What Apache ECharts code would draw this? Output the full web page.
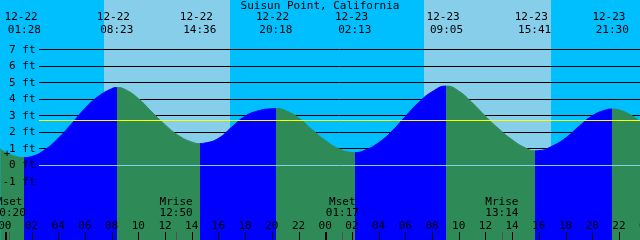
<!DOCTYPE html>
<html>
<head>
<meta charset="utf-8">
<script src="https://cdn.jsdelivr.net/npm/echarts@6/dist/echarts.min.js"></script>
<style>
html,body{margin:0;padding:0;background:#00BFFF;}
#c{width:640px;height:240px;}
</style>
</head>
<body>
<div id="c"></div>
<script>
// ---------- data (hours counted from 12-22 00:00) ----------
const chartTitle = 'Suisun Point, California';

const tideTimes = [-0.34, 0, 1, 1.467, 2, 3, 4, 5, 6, 7, 8, 8.383, 9, 10, 11, 12, 13, 14, 14.6,
  15, 16, 17, 18, 19, 20, 20.3, 21, 22, 23, 24, 25, 26, 26.217, 27, 28, 29, 30, 31, 32, 33.083,
  34, 35, 36, 37, 38, 39, 39.683, 40, 41, 42, 43, 44, 45, 45.5, 46, 47, 47.6];
const tideHeights = [1.00, 0.82, 0.52, 0.48, 0.54, 0.95, 1.64, 2.52, 3.45, 4.17, 4.64, 4.71, 4.60, 4.05, 3.25, 2.47, 1.82, 1.42, 1.33,
  1.36, 1.64, 2.32, 2.98, 3.31, 3.43, 3.44, 3.33, 2.88, 2.18, 1.52, 1.02, 0.79, 0.78, 0.93, 1.38, 2.08, 2.96, 3.80, 4.45, 4.80,
  4.50, 3.80, 2.98, 2.22, 1.56, 1.06, 0.89, 0.90, 1.17, 1.66, 2.36, 3.00, 3.35, 3.41, 3.36, 3.00, 2.65];

const extremeTimes  = [1.467, 8.383, 14.6, 20.3, 26.217, 33.083, 39.683, 45.5];
const extremeKinds  = ['low', 'high', 'low', 'high', 'low', 'high', 'low', 'high'];
const extremeDates  = ['12-22', '12-22', '12-22', '12-22', '12-23', '12-23', '12-23', '12-23'];
const extremeClock  = ['01:28', '08:23', '14:36', '20:18', '02:13', '09:05', '15:41', '21:30'];

const sunriseTimes = [7.40, 31.42];
const sunsetTimes  = [16.89, 40.93];

const moonTimes  = [0.333, 12.833, 25.283, 37.233];
const moonEvents = ['Mset', 'Mrise', 'Mset', 'Mrise'];
const moonClock  = ['00:20', '12:50', '01:17', '13:14'];

const hourTicks  = [0, 2, 4, 6, 8, 10, 12, 14, 16, 18, 20, 22, 24, 26, 28, 30, 32, 34, 36, 38, 40, 42, 44, 46, 48];
const hourLabels = ['00','02','04','06','08','10','12','14','16','18','20','22','00','02','04','06','08','10','12','14','16','18','20','22','00'];

const levelValues = [-1, 0, 1, 2, 3, 4, 5, 6, 7];
const levelLabels = ['-1 ft', '0 ft', '1 ft', '2 ft', '3 ft', '4 ft', '5 ft', '6 ft', '7 ft'];
const meanLevel = [2.72];
const markLevel = [0.69];

// ---------- styling ----------
const X_MIN = -0.36, X_MAX = 47.58, Y_MIN = -4.5, Y_MAX = 10;
const FONT = '11px "DejaVu Sans Mono", "Liberation Mono", monospace';
const LINE_X0 = 39;
const NIGHT = '#00BFFF', DAY = '#87CEEB', RISE = '#0000FF', FALL = '#2E8B57';

// visual pieces: rising after a low, falling after a high
const pieces = [{ lt: extremeTimes[0], color: extremeKinds[0] === 'low' ? FALL : RISE }];
extremeTimes.forEach((t, i) => {
  const p = { gte: t, color: extremeKinds[i] === 'low' ? RISE : FALL };
  if (i < extremeTimes.length - 1) p.lt = extremeTimes[i + 1];
  pieces.push(p);
});

function txt(x, y, text, align, fill) {
  return { type: 'text', x: x, y: y, style: { text: text, font: FONT, fill: fill || '#000', align: align || 'center', verticalAlign: 'middle' } };
}

const chart = echarts.init(document.getElementById('c'));
chart.setOption({
  backgroundColor: NIGHT,
  animation: false,
  grid: { left: 0, right: 0, top: 0, bottom: 0 },
  xAxis: { type: 'value', min: X_MIN, max: X_MAX, show: false },
  yAxis: { type: 'value', min: Y_MIN, max: Y_MAX, show: false },
  visualMap: { type: 'piecewise', show: false, dimension: 0, seriesIndex: 2, pieces: pieces },
  series: [
    { // daylight bands
      type: 'custom', z: 1, silent: true,
      data: sunriseTimes.map((s, i) => [s, sunsetTimes[i], 0]),
      encode: { x: [0, 1], y: 2 },
      renderItem: (params, api) => {
        const a = Math.round(api.coord([api.value(0), 0])[0]);
        const b = Math.round(api.coord([api.value(1), 0])[0]);
        const cs = params.coordSys;
        return { type: 'rect', shape: { x: a, y: cs.y, width: b - a, height: cs.height }, style: { fill: DAY } };
      }
    },
    { // level lines behind tide
      type: 'custom', z: 2, silent: true,
      data: levelValues.filter(v => v !== 0).map(v => [X_MIN, v]),
      encode: { x: 0, y: 1 },
      renderItem: (params, api) => {
        const y = Math.floor(api.coord([api.value(0), api.value(1)])[1]) + 0.5;
        const cs = params.coordSys;
        return { type: 'line', shape: { x1: LINE_X0, y1: y, x2: cs.x + cs.width, y2: y }, style: { stroke: '#000', lineWidth: 1 } };
      }
    },
    { // tide
      type: 'line', z: 3, silent: true,
      data: tideTimes.map((t, i) => [t, tideHeights[i]]),
      smooth: 0.5, showSymbol: false,
      lineStyle: { width: 1 },
      areaStyle: { opacity: 1, origin: 'start' }
    },
    { // datum and mean lines
      type: 'custom', z: 4, silent: true,
      data: [[X_MIN, 0, 0], [X_MIN, meanLevel[0], 1]],
      encode: { x: 0, y: 1 },
      renderItem: (params, api) => {
        const y = Math.floor(api.coord([api.value(0), api.value(1)])[1]) + 0.5;
        const cs = params.coordSys;
        return { type: 'line', shape: { x1: LINE_X0, y1: y, x2: cs.x + cs.width, y2: y },
          style: { stroke: api.value(2) ? '#FFFF00' : DAY, lineWidth: 1 } };
      }
    },
    { // level labels
      type: 'custom', z: 5, silent: true,
      data: levelValues.map((v, i) => [X_MIN, v, i]),
      encode: { x: 0, y: 1 },
      renderItem: (params, api) => {
        const y = api.coord([api.value(0), api.value(1)])[1];
        return txt(35.5, y, levelLabels[api.value(2)], 'right');
      }
    },
    { // extreme labels
      type: 'custom', z: 5, silent: true,
      data: extremeTimes.map((t, i) => [t, Y_MAX, i]),
      encode: { x: 0, y: 1 },
      renderItem: (params, api) => {
        const x = api.coord([api.value(0), api.value(1)])[0];
        const i = api.value(2);
        return { type: 'group', children: [txt(x - 3.3, 17, extremeDates[i]), txt(x, 30, extremeClock[i])] };
      }
    },
    { // moon events
      type: 'custom', z: 5, silent: true,
      data: moonTimes.map((t, i) => [t, Y_MIN, i]),
      encode: { x: 0, y: 1 },
      renderItem: (params, api) => {
        const x = api.coord([api.value(0), api.value(1)])[0];
        const i = api.value(2);
        const xl = Math.round(x) + 0.5;
        return { type: 'group', children: [
          txt(x, 202.5, moonEvents[i]), txt(x, 213, moonClock[i]),
          { type: 'line', shape: { x1: xl, y1: 232, x2: xl, y2: 240 }, style: { stroke: '#505050', lineWidth: 1 } }
        ] };
      }
    },
    { // hour ticks and labels
      type: 'custom', z: 5, silent: true,
      data: hourTicks.map((h, i) => [h, Y_MIN, i]),
      encode: { x: 0, y: 1 },
      renderItem: (params, api) => {
        const h = api.value(0);
        const x = api.coord([h, api.value(1)])[0];
        const day = h % 24 === 0;
        const xl = day ? Math.round(x) + 1 : Math.round(x) + 0.5;
        return { type: 'group', children: [
          txt(x, 226, hourLabels[api.value(2)]),
          { type: 'line', shape: { x1: xl, y1: 232, x2: xl, y2: 240 }, style: { stroke: '#000', lineWidth: day ? 2 : 1 } }
        ] };
      }
    },
    { // mark
      type: 'custom', z: 5, silent: true,
      data: markLevel.map(v => [X_MIN, v]),
      encode: { x: 0, y: 1 },
      renderItem: (params, api) => {
        const y = api.coord([api.value(0), api.value(1)])[1];
        return txt(7, y, '+');
      }
    }
  ],
  graphic: [
    { type: 'text', x: 320, y: 6, style: { text: chartTitle, font: FONT, fill: '#000', align: 'center', verticalAlign: 'middle' } }
  ]
});
</script>
</body>
</html>
